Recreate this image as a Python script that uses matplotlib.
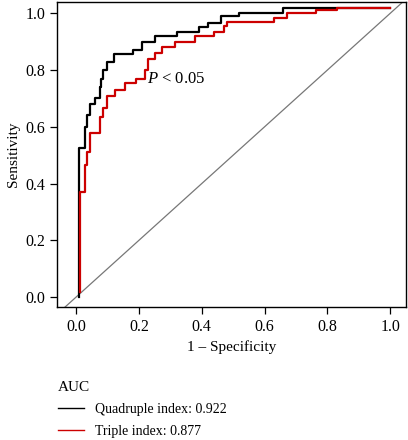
import matplotlib
matplotlib.use("Agg")
import matplotlib.pyplot as plt
import numpy as np

plt.rcParams["font.family"] = ["Liberation Serif", "DejaVu Serif"]
plt.rcParams["mathtext.fontset"] = "custom"
plt.rcParams["mathtext.it"] = "Liberation Serif:italic"
plt.rcParams["mathtext.rm"] = "Liberation Serif"

# ROC step points (1 - specificity, sensitivity)
quad_fpr = [0.01, 0.01, 0.03, 0.03, 0.035, 0.035, 0.045, 0.045, 0.06, 0.06, 0.075, 0.075,
            0.08, 0.08, 0.085, 0.085, 0.10, 0.10, 0.12, 0.12, 0.18, 0.18, 0.21, 0.21,
            0.25, 0.25, 0.32, 0.32, 0.39, 0.39, 0.42, 0.42, 0.46, 0.46, 0.52, 0.52,
            0.66, 0.66, 1.0]
quad_tpr = [0.0, 0.525, 0.525, 0.60, 0.60, 0.64, 0.64, 0.68, 0.68, 0.70, 0.70, 0.74,
            0.74, 0.77, 0.77, 0.80, 0.80, 0.83, 0.83, 0.855, 0.855, 0.87, 0.87, 0.90,
            0.90, 0.92, 0.92, 0.935, 0.935, 0.95, 0.95, 0.965, 0.965, 0.99, 0.99, 1.0,
            1.0, 1.02, 1.02]

tri_fpr = [0.013, 0.013, 0.03, 0.03, 0.035, 0.035, 0.045, 0.045, 0.075, 0.075, 0.085, 0.085,
           0.10, 0.10, 0.125, 0.125, 0.155, 0.155, 0.19, 0.19, 0.22, 0.22, 0.23, 0.23,
           0.25, 0.25, 0.275, 0.275, 0.315, 0.315, 0.38, 0.38, 0.44, 0.44, 0.47, 0.47,
           0.48, 0.48, 0.63, 0.63, 0.67, 0.67, 0.765, 0.765, 0.83, 0.83, 1.0]
tri_tpr = [0.018, 0.37, 0.37, 0.465, 0.465, 0.51, 0.51, 0.58, 0.58, 0.635, 0.635, 0.665,
           0.665, 0.71, 0.71, 0.73, 0.73, 0.755, 0.755, 0.77, 0.77, 0.80, 0.80, 0.84,
           0.84, 0.86, 0.86, 0.88, 0.88, 0.90, 0.90, 0.92, 0.92, 0.935, 0.935, 0.955,
           0.955, 0.97, 0.97, 0.985, 0.985, 1.0, 1.0, 1.01, 1.01, 1.02, 1.02]

labels = ["Quadruple index: 0.922", "Triple index: 0.877"]
colors = ["black", "#cc0000"]

fig = plt.figure(figsize=(4.08, 4.4), dpi=100)
ax = fig.add_axes([0.14, 0.302, 0.855, 0.693])

ax.axline((0, 0), (1, 1), color="#777777", lw=0.9)
ax.plot(quad_fpr, quad_tpr, color=colors[0], lw=1.6)
ax.plot(tri_fpr, tri_tpr, color=colors[1], lw=1.6)

ax.text(0.226, 0.77, "$P$ < 0.05", fontsize=12, va="center", ha="left")

ax.set_xlim(-0.06, 1.05)
ax.set_ylim(-0.035, 1.039)
ax.set_xticks(np.arange(0, 1.01, 0.2))
ax.set_yticks(np.arange(0, 1.01, 0.2))
ax.xaxis.set_major_formatter(plt.FormatStrFormatter("%.1f"))
ax.yaxis.set_major_formatter(plt.FormatStrFormatter("%.1f"))
ax.tick_params(labelsize=11.5, length=5, width=0.9, direction="out")
for s in ax.spines.values():
    s.set_linewidth(1.0)
ax.set_xlabel("1 \u2013 Specificity", fontsize=11, labelpad=4)
ax.set_ylabel("Sensitivity", fontsize=11, labelpad=4)

h1 = plt.Line2D([], [], color=colors[0], lw=1.0)
h2 = plt.Line2D([], [], color=colors[1], lw=1.0)
leg = fig.legend([h1, h2], labels, loc="upper left", bbox_to_anchor=(0.125, 0.15),
                 title="AUC", frameon=False, fontsize=10, title_fontsize=11,
                 alignment="left", borderpad=0, handlelength=1.9, handletextpad=0.75,
                 labelspacing=0.65)

fig.savefig("out.png", dpi=100)
